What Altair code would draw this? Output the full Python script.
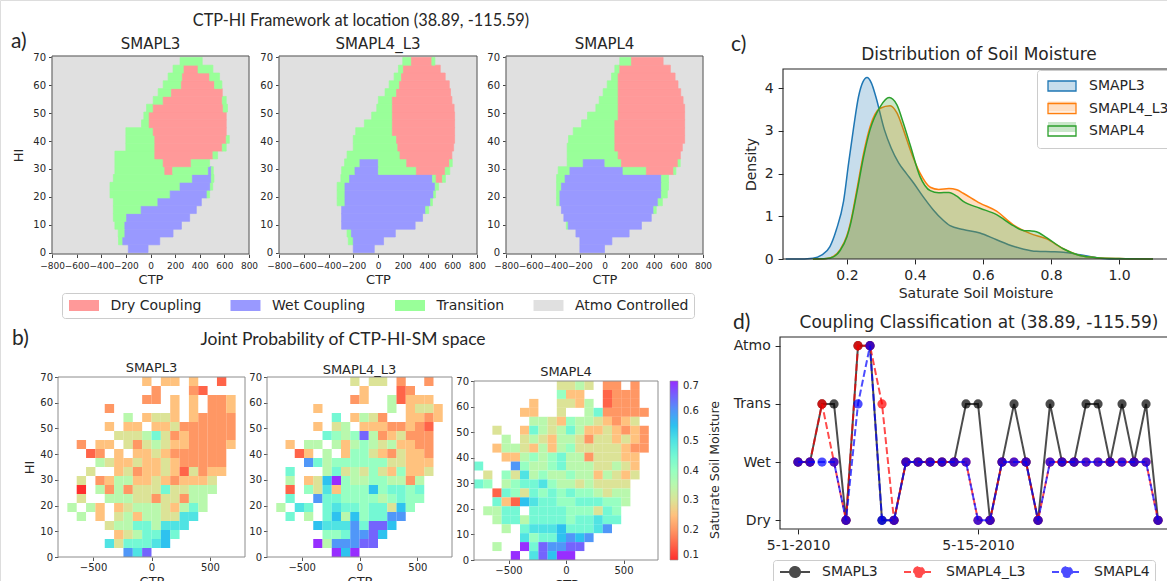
import altair as alt
import pandas as pd

W, H = 1167, 581
FONT = "DejaVu Sans"
HEAD = "Lato"
INK = "#262626"

# ---------------------------------------------------------------------------
# a) CTP-HI framework: coupling regime of each CTP/HI cell, per product
# ---------------------------------------------------------------------------
REGIME_NAMES = ["Dry Coupling", "Wet Coupling", "Transition", "Atmo Controlled"]
REGIME_COLORS = ["#ff9999", "#9999ff", "#99ff99", "#e0e0e0"]
REGIME_CODES = {"D": "Dry Coupling", "W": "Wet Coupling", "T": "Transition"}
CTP_LIMITS = [-800, 800]
HI_LIMITS = [-0.5, 70.5]
HI_BAND = 2.8  # height of one HI band of the regime maps

# one entry per HI band, bottom to top: runs of (regime, CTP from, CTP to);
# every cell outside the runs is atmosphere controlled
REGIME_SMAPL3 = [
    [("W", -180, -20)],
    [("T", -260, -225), ("W", -225, 75)],
    [("T", -262, -208), ("W", -208, 183)],
    [("T", -289, -208), ("W", -208, 251)],
    [("T", -302, -194), ("W", -194, 318)],
    [("T", -302, -76), ("W", -76, 372)],
    [("T", -302, 60), ("W", 60, 413)],
    [("T", -329, 160), ("W", 160, 459), ("T", 459, 480)],
    [("T", -329, 240), ("W", 240, 486), ("T", 486, 505)],
    [("T", -302, 340), ("W", 340, 494), ("T", 494, 515)],
    [("T", -289, 116), ("D", 116, 180), ("T", 180, 470), ("W", 470, 494), ("T", 494, 510)],
    [("T", -289, 103), ("D", 103, 330), ("T", 330, 480)],
    [("T", -289, 35), ("D", 35, 507), ("T", 507, 545)],
    [("T", -200, 35), ("D", 35, 583), ("T", 583, 615)],
    [("T", -200, 35), ("D", 35, 615), ("T", 615, 640)],
    [("T", -200, 22), ("D", 22, 615)],
    [("T", -73, -11), ("D", -11, 615)],
    [("T", -54, -11), ("D", -11, 615)],
    [("T", -32, 22), ("D", 22, 590), ("T", 590, 625)],
    [("T", 22, 103), ("D", 103, 583), ("T", 583, 615)],
    [("T", 62, 170), ("D", 170, 583)],
    [("T", 103, 251), ("D", 251, 520), ("T", 520, 580)],
    [("T", 143, 259), ("D", 259, 480), ("T", 480, 561)],
    [("T", 183, 272), ("D", 272, 386), ("T", 386, 507)],
    [("T", 240, 420)],
]
REGIME_SMAPL4_L3 = [
    [("W", -200, -30)],
    [("T", -240, -200), ("W", -200, 45)],
    [("T", -250, -215), ("W", -215, 140)],
    [("W", -294, 300)],
    [("W", -294, 360)],
    [("W", -294, 385), ("T", 385, 410)],
    [("T", -330, -267), ("W", -267, 425), ("T", 425, 440)],
    [("T", -330, -267), ("W", -267, 450), ("T", 450, 465)],
    [("T", -330, -267), ("W", -267, 462), ("T", 462, 490)],
    [("T", -300, -230), ("W", -230, 440), ("T", 440, 470), ("D", 470, 520), ("T", 520, 545)],
    [("T", -294, -186), ("W", -186, 3), ("T", 3, 310), ("D", 310, 543), ("T", 543, 580)],
    [("T", -270, -146), ("W", -146, 3), ("T", 3, 232), ("D", 232, 578), ("T", 578, 600)],
    [("T", -250, 178), ("D", 178, 597)],
    [("T", -200, 160), ("D", 160, 611)],
    [("T", -200, 150), ("D", 150, 619)],
    [("T", -180, 116), ("D", 116, 619)],
    [("T", -110, 116), ("D", 116, 619)],
    [("T", -51, 116), ("D", 116, 619)],
    [("T", -10, 116), ("D", 116, 615)],
    [("T", 3, 116), ("D", 116, 597)],
    [("T", 57, 150), ("D", 150, 586)],
    [("T", 90, 173), ("D", 173, 576)],
    [("T", 130, 190), ("D", 190, 543)],
    [("T", 165, 205), ("D", 205, 503)],
    [("T", 200, 270), ("D", 270, 435), ("T", 435, 460)],
]
REGIME_SMAPL4 = [
    [("W", -200, 0)],
    [("W", -200, 60)],
    [("W", -232, 200)],
    [("T", -310, -295), ("W", -295, 300)],
    [("W", -330, 380)],
    [("W", -350, 400), ("T", 400, 420)],
    [("T", -389, -362), ("W", -362, 435), ("T", 435, 470)],
    [("T", -389, -362), ("W", -362, 462), ("T", 462, 510)],
    [("T", -389, -350), ("W", -350, 462), ("T", 462, 520)],
    [("T", -389, -320), ("W", -320, 462), ("T", 462, 520)],
    [("T", -376, -281), ("W", -281, 150), ("T", 150, 340), ("D", 340, 562), ("T", 562, 580)],
    [("T", -303, -173), ("W", -173, 3), ("T", 3, 138), ("D", 138, 597), ("T", 597, 615)],
    [("T", -303, 111), ("D", 111, 616)],
    [("T", -303, 84), ("D", 84, 632)],
    [("T", -292, 84), ("D", 84, 651)],
    [("T", -254, 84), ("D", 84, 651)],
    [("T", -186, 84), ("D", 84, 651)],
    [("T", -138, 111), ("D", 111, 651)],
    [("T", -70, 111), ("D", 111, 651)],
    [("T", -43, 111), ("D", 111, 638)],
    [("T", -11, 111), ("D", 111, 619)],
    [("T", 22, 111), ("D", 111, 597)],
    [("T", 57, 111), ("D", 111, 573)],
    [("T", 84, 124), ("D", 124, 535)],
    [("T", 124, 219), ("D", 219, 476)],
]

# ---------------------------------------------------------------------------
# b) mean saturated soil moisture in each CTP/HI bin
#    one string per HI row (top row first), one letter per CTP bin, '.' = no data
# ---------------------------------------------------------------------------
SM_CODE = {"a": 0.10, "b": 0.15, "c": 0.20, "d": 0.25, "e": 0.30, "f": 0.35,
           "g": 0.40, "h": 0.45, "i": 0.50, "j": 0.55, "k": 0.60, "l": 0.65, "m": 0.70}
CTP_BIN = 80
HI_BIN = 3.5
GRID_SMAPL3 = [
    ".........d.dd.d..b..",
    "..........c...cb....",
    ".........cc.d.d.ccd.",
    ".....c......d.d.ccd.",
    ".......f.deed.dcccc.",
    ".....d.dd.ddecccccc.",
    "......eeefhecdccccc.",
    "..c.dd.ecefeddccccd.",
    "...bc.d.ddedcccccc..",
    "....feddeddedccccc..",
    "...e..decddedbecdd..",
    "..e.cdffddedcddde...",
    "..a.fcfceeeheefff...",
    "..e..fffeeceecff....",
    ".f.fd.defffedfhf....",
    "..f.d.efdffeeii.....",
    ".....effhhfiii......",
    "......defhhjh.......",
    ".....iehhhij........",
    ".......kil..........",
]
GRID_SMAPL4_L3 = [
    ".........e.ee.c..c..",
    "..........d...bc....",
    ".........cd..fbddd..",
    ".....d.......f.deed.",
    ".......h.dfec..ddcd.",
    ".....d.ef.dddccdcb..",
    "......hgfglfcdeccc..",
    "..d.ff.fdfgfefddcc..",
    "...bd.f.dggedceddc..",
    "....khfggggggeeddd..",
    "..h...fhefegedgdde..",
    "..f.dejmgffggffcf...",
    "..b.geidgggjghhgh...",
    "..h..khhggggfghgg...",
    ".f.ih.hihhghhejg....",
    "..h.f.hjfjghhkk.....",
    ".....jiiikhllj......",
    "......gghkklj.......",
    ".....mfkkkll........",
    ".......mjm..........",
]
GRID_SMAPL4 = [
    ".........eefe.cc.c..",
    ".........gdd..bccc..",
    "......d..eedf.bccc..",
    ".....dd..e..fhccccc.",
    "......ffedgffedcde..",
    "..e..dhfefhfddedcdc.",
    "...f.efedffeceededc.",
    "..dffedfdfgeeeeedcc.",
    "...ddfgfghffceeedd..",
    "h...kgffghfffeefed..",
    ".e.geifgffgffdfede..",
    "hg.fghhigffefeeee...",
    "..bhgehghghggfeff...",
    "..hdbjihhgghhhggf...",
    ".ffhh.hhhhgggehg....",
    "..fhhfhhhhghhihh....",
    "...f.hiiijhhhik.....",
    ".....ighhjkjk.......",
    "..f..mhlkkll........",
    "....m.iljmm.........",
]
# reversed rainbow colour map, one colour per soil-moisture stop
SM_STOPS = [0.10, 0.15, 0.20, 0.25, 0.30, 0.35, 0.40, 0.45, 0.50, 0.55, 0.60, 0.65, 0.70]
SM_PALETTE = ["#ff0000", "#ff4221", "#ff8042", "#ffb462", "#d4dd80", "#aaf69b", "#80ffb4",
              "#55f6ca", "#2adddd", "#00b4ec", "#2a80f6", "#5542fd", "#8000ff"]
SM_TICKS = [0.1, 0.2, 0.3, 0.4, 0.5, 0.6, 0.7]

# ---------------------------------------------------------------------------
# c) density of saturated soil moisture
# ---------------------------------------------------------------------------
SERIES = ["SMAPL3", "SMAPL4_L3", "SMAPL4"]
KDE_COLORS = ["#1f77b4", "#ff7f0e", "#2ca02c"]
SM_X_L3 = [0.02, 0.05, 0.10, 0.125, 0.15, 0.169, 0.19, 0.205, 0.22, 0.234, 0.247, 0.259,
           0.272, 0.285, 0.31, 0.33, 0.352, 0.375, 0.396, 0.425, 0.454, 0.48, 0.503, 0.542,
           0.591, 0.64, 0.689, 0.72, 0.757, 0.8, 0.836, 0.885, 0.943, 1.0, 1.1]
DENS_L3 = [0.0, 0.0, 0.02, 0.09, 0.29, 0.69, 1.35, 2.25, 3.1, 3.8, 4.15, 4.25,
           4.12, 3.8, 3.03, 2.6, 2.25, 2.0, 1.78, 1.45, 1.15, 0.93, 0.78, 0.69,
           0.61, 0.45, 0.3, 0.23, 0.18, 0.17, 0.16, 0.1, 0.02, 0.0, 0.0]
SM_X_L4L3 = [0.10, 0.14, 0.16, 0.18, 0.20, 0.21, 0.229, 0.249, 0.268, 0.298, 0.327, 0.347,
             0.366, 0.386, 0.415, 0.445, 0.47, 0.50, 0.523, 0.542, 0.591, 0.64, 0.689,
             0.738, 0.787, 0.836, 0.885, 0.934, 1.0, 1.1]
DENS_L4L3 = [0.0, 0.01, 0.06, 0.22, 0.55, 0.84, 1.62, 2.48, 3.1, 3.53, 3.59, 3.42,
             3.03, 2.56, 2.01, 1.68, 1.63, 1.65, 1.62, 1.54, 1.31, 1.12, 0.8,
             0.6, 0.47, 0.24, 0.08, 0.03, 0.01, 0.0]
SM_X_L4 = [0.10, 0.14, 0.16, 0.18, 0.20, 0.21, 0.229, 0.249, 0.268, 0.298, 0.324, 0.347,
           0.366, 0.386, 0.415, 0.445, 0.47, 0.50, 0.523, 0.542, 0.591, 0.64, 0.689,
           0.718, 0.738, 0.757, 0.787, 0.836, 0.885, 0.934, 1.0, 1.1]
DENS_L4 = [0.0, 0.01, 0.05, 0.2, 0.52, 0.8, 1.55, 2.4, 3.03, 3.57, 3.78, 3.61,
           3.18, 2.67, 1.93, 1.6, 1.55, 1.56, 1.47, 1.35, 1.19, 1.04, 0.78,
           0.67, 0.66, 0.64, 0.5, 0.24, 0.08, 0.03, 0.01, 0.0]

# ---------------------------------------------------------------------------
# d) daily coupling class, May 2010
# ---------------------------------------------------------------------------
LEVELS = ["Dry", "Wet", "Trans", "Atmo"]
DAY_TICKS = [0, 15]
DAY_LABELS = ["5-1-2010", "5-15-2010"]
DAY_COLORS = ["#000000", "#ff0000", "#0000ff"]
DAY_DASHES = [[1, 0], [7, 3], [7, 3]]
CLASS_SMAPL3 = ["Wet", "Wet", "Trans", "Trans", "Dry", "Atmo", "Atmo", "Dry", "Dry", "Wet",
                "Wet", "Wet", "Wet", "Wet", "Trans", "Trans", "Dry", "Wet", "Trans", "Wet",
                "Dry", "Trans", "Wet", "Wet", "Trans", "Trans", "Wet", "Trans", "Wet", "Trans",
                "Dry"]
CLASS_SMAPL4_L3 = ["Wet", "Wet", "Trans", "Wet", "Dry", "Atmo", "Atmo", "Trans", "Dry", "Wet",
                   "Wet", "Wet", "Wet", "Wet", "Wet", "Dry", "Dry", "Wet", "Wet", "Wet",
                   "Dry", "Wet", "Wet", "Wet", "Wet", "Wet", "Wet", "Wet", "Wet", "Wet",
                   "Dry"]
CLASS_SMAPL4 = ["Wet", "Wet", "Wet", "Wet", "Dry", "Trans", "Atmo", "Dry", "Dry", "Wet",
                "Wet", "Wet", "Wet", "Wet", "Wet", "Dry", "Dry", "Wet", "Wet", "Wet",
                "Dry", "Wet", "Wet", "Wet", "Wet", "Wet", "Wet", "Wet", "Wet", "Wet",
                "Dry"]

# ---------------------------------------------------------------------------
# page layout (pixels) of every plotting area
# ---------------------------------------------------------------------------
MAP_X = [(52, 249), (279, 477), (506, 703)]
MAP_Y = (254, 56)
HEAT_X = [(58, 245), (267, 452), (474, 658)]
HEAT_Y = [(557, 377), (557, 377), (560, 381)]
KDE_PX = ((783, 1168), (259, 69))
KDE_DOMAIN = ([0.012, 1.144], [0, 4.45])
DAY_PX = ((780, 1168), (529, 337))
DAY_DOMAIN = ([-1.5, 30.83], [-0.15, 3.15])


def axis(orient, pos, values, size, title=None, title_size=13, tick=3.5, pad=2,
         title_pad=4, fmt=None, label_expr=None, tick_color=INK):
    offset = pos - H if orient == "bottom" else -pos
    kw = dict(orient=orient, offset=offset, values=values, grid=False, domain=False,
              tickSize=tick, tickColor=tick_color, tickWidth=1, labelFont=FONT,
              labelFontSize=size, labelColor=INK, labelPadding=pad, labelOverlap=False,
              labelFlush=False, title=title)
    if title:
        kw.update(titleFont=FONT, titleFontSize=title_size, titleColor=INK,
                  titlePadding=title_pad, titleFontWeight="normal")
    if fmt:
        kw["format"] = fmt
    if label_expr:
        kw["labelExpr"] = label_expr
    return alt.Axis(**kw)


def frame(xs, ys, xax, yax, xdom, ydom, color, width=1.0):
    box = pd.DataFrame({"x0": [xdom[0]], "x1": [xdom[1]], "y0": [ydom[0]], "y1": [ydom[1]]})
    return alt.Chart(box).mark_rect(fillOpacity=0, stroke=color, strokeWidth=width).encode(
        x=alt.X("x0:Q", scale=xs, axis=xax), x2="x1:Q",
        y=alt.Y("y0:Q", scale=ys, axis=yax), y2="y1:Q")


def regime_panel(rows, xr, show_hi, show_legend):
    recs = [dict(regime="Atmo Controlled", x0=CTP_LIMITS[0], x1=CTP_LIMITS[1],
                 y0=HI_LIMITS[0], y1=HI_LIMITS[1])]
    for k, runs in enumerate(rows):
        for code, a, b in runs:
            recs.append(dict(regime=REGIME_CODES[code], x0=a, x1=b,
                             y0=k * HI_BAND, y1=(k + 1) * HI_BAND))
    df = pd.DataFrame(recs)
    xs = alt.Scale(domain=CTP_LIMITS, range=list(xr), nice=False, zero=False)
    ys = alt.Scale(domain=HI_LIMITS, range=list(MAP_Y), nice=False, zero=False)
    xax = axis("bottom", MAP_Y[0], list(range(-800, 801, 200)), 9, title="CTP",
               title_size=13, pad=3.5, title_pad=3, fmt="d", tick_color="#444")
    yax = axis("left", xr[0], list(range(0, 71, 10)), 10, title="HI" if show_hi else None,
               title_size=13, pad=3, title_pad=7, fmt="d", tick_color="#444")
    if show_legend:
        legend = alt.Legend(orient="none", legendX=62, legendY=293, direction="horizontal",
                            title=None, symbolType="M-1,-1H4.45V1H-1Z", symbolSize=121,
                            symbolStrokeWidth=0, symbolOpacity=1, labelFont=FONT,
                            labelFontSize=14, labelColor=INK, labelOffset=29,
                            columnPadding=27.5, padding=5.5, strokeColor="#cccccc",
                            cornerRadius=3)
    else:
        legend = None
    regime_scale = alt.Scale(domain=REGIME_NAMES, range=REGIME_COLORS)
    cells = alt.Chart(df).mark_rect(strokeWidth=0.7).encode(
        x=alt.X("x0:Q", scale=xs, axis=xax), x2="x1:Q",
        y=alt.Y("y0:Q", scale=ys, axis=yax), y2="y1:Q",
        color=alt.Color("regime:N", scale=regime_scale, legend=legend),
        stroke=alt.Stroke("regime:N", scale=regime_scale, legend=None))
    return alt.layer(cells, frame(xs, ys, xax, yax, CTP_LIMITS, HI_LIMITS, "#555555"))


def heat_panel(rows, xr, yr, show_hi, show_legend):
    recs = []
    for r, line in enumerate(rows):
        y0 = 70 - (r + 1) * HI_BIN
        for c, ch in enumerate(line):
            if ch in SM_CODE:
                x0 = CTP_LIMITS[0] + c * CTP_BIN
                recs.append(dict(x0=x0, x1=x0 + CTP_BIN, y0=y0, y1=y0 + HI_BIN, sm=SM_CODE[ch]))
    df = pd.DataFrame(recs)
    xs = alt.Scale(domain=CTP_LIMITS, range=list(xr), nice=False, zero=False)
    ys = alt.Scale(domain=[0, 70], range=list(yr), nice=False, zero=False)
    xax = axis("bottom", yr[0], [-500, 0, 500], 10, title="CTP", title_size=13, pad=2,
               title_pad=3, fmt="d", tick_color="#555")
    yax = axis("left", xr[0], list(range(0, 71, 10)), 10, title="HI" if show_hi else None,
               title_size=13, pad=2, title_pad=3, fmt="d", tick_color="#555")
    if show_legend:
        legend = alt.Legend(orient="none", legendX=670, legendY=381, direction="vertical",
                            title=None, gradientLength=179, gradientThickness=8,
                            values=SM_TICKS, format=".1f", labelFont=FONT, labelFontSize=10,
                            labelColor=INK, labelOffset=5, labelBaseline="middle",
                            gradientStrokeColor="#777777", gradientStrokeWidth=0.6)
    else:
        legend = None
    cells = alt.Chart(df).mark_rect(opacity=0.82).encode(
        x=alt.X("x0:Q", scale=xs, axis=xax), x2="x1:Q",
        y=alt.Y("y0:Q", scale=ys, axis=yax), y2="y1:Q",
        color=alt.Color("sm:Q", scale=alt.Scale(domain=SM_STOPS, range=SM_PALETTE,
                                                interpolate="rgb"), legend=legend))
    return alt.layer(cells, frame(xs, ys, xax, yax, CTP_LIMITS, [0, 70], "#8c8c8c"))


def kde_panel():
    rows = []
    for name, xs_, ds_ in zip(SERIES, [SM_X_L3, SM_X_L4L3, SM_X_L4],
                              [DENS_L3, DENS_L4L3, DENS_L4]):
        for a, b in zip(xs_, ds_):
            rows.append(dict(sm=a, density=b, series=name, curve=name))
    df = pd.DataFrame(rows)
    xs = alt.Scale(domain=KDE_DOMAIN[0], range=list(KDE_PX[0]), nice=False, zero=False)
    ys = alt.Scale(domain=KDE_DOMAIN[1], range=list(KDE_PX[1]), nice=False, zero=False)
    xax = axis("bottom", KDE_PX[1][0], [0.2, 0.4, 0.6, 0.8, 1.0], 14,
               title="Saturate Soil Moisture", title_size=14, tick=4.9, pad=4.9,
               title_pad=4, fmt=".1f")
    yax = axis("left", KDE_PX[0][0], [0, 1, 2, 3, 4], 14, title="Density", title_size=14,
               tick=4.9, pad=4.9, title_pad=6, fmt="d")
    patch = "M-1,-1H4.6V1H-1Z"
    common = dict(orient="none", legendX=1037, legendY=70, direction="vertical", title=None,
                  symbolType=patch, symbolSize=100, labelFont=FONT, labelFontSize=14,
                  labelColor=INK, labelOffset=29, rowPadding=6.5, padding=9)
    # translucent patches (no text) under the outlined, labelled entries
    fill_legend = alt.Legend(symbolOpacity=0.25, symbolStrokeWidth=0, labelExpr="''",
                             **common)
    edge_legend = alt.Legend(symbolStrokeWidth=1.3, symbolFillColor="transparent",
                             strokeColor="#cccccc", cornerRadius=3, **common)
    layers = []
    for name in SERIES:
        base = alt.Chart(df).transform_filter(alt.datum.series == name)
        layers.append(base.mark_area(interpolate="monotone", fillOpacity=0.25).encode(
            x=alt.X("sm:Q", scale=xs, axis=xax),
            y=alt.Y("density:Q", scale=ys, axis=yax),
            fill=alt.Fill("series:N", scale=alt.Scale(domain=SERIES, range=KDE_COLORS),
                          legend=fill_legend)))
        layers.append(base.mark_line(interpolate="monotone", strokeWidth=1.5).encode(
            x=alt.X("sm:Q", scale=xs, axis=xax),
            y=alt.Y("density:Q", scale=ys, axis=yax),
            stroke=alt.Stroke("curve:N", sort=SERIES, scale=alt.Scale(range=KDE_COLORS),
                              legend=edge_legend)))
    layers.append(frame(xs, ys, xax, yax, KDE_DOMAIN[0], KDE_DOMAIN[1], INK, 1.1))
    return alt.layer(*layers)


def day_panel():
    rows = []
    for name, classes in zip(SERIES, [CLASS_SMAPL3, CLASS_SMAPL4_L3, CLASS_SMAPL4]):
        for day, cls in enumerate(classes):
            rows.append(dict(day=day, level=LEVELS.index(cls), series=name))
    df = pd.DataFrame(rows)
    xs = alt.Scale(domain=DAY_DOMAIN[0], range=list(DAY_PX[0]), nice=False, zero=False)
    ys = alt.Scale(domain=DAY_DOMAIN[1], range=list(DAY_PX[1]), nice=False, zero=False)
    day_expr = " : ".join(f"datum.value == {v} ? '{t}'" for v, t in zip(DAY_TICKS, DAY_LABELS)) + " : ''"
    lvl_expr = "[" + ", ".join(f"'{t}'" for t in LEVELS) + "][datum.value]"
    xax = axis("bottom", DAY_PX[1][0], DAY_TICKS, 14, tick=4.9, pad=4.9, label_expr=day_expr)
    yax = axis("left", DAY_PX[0][0], list(range(len(LEVELS))), 14, tick=4.9, pad=4.9,
               label_expr=lvl_expr)
    legend = alt.Legend(orient="none", legendX=773, legendY=560, direction="horizontal",
                        title=None, symbolType="M-1,0H5M1,0A1,1,0,1,1,3,0A1,1,0,1,1,1,0Z",
                        symbolSize=100, symbolStrokeWidth=2, symbolOpacity=0.7,
                        labelFont=FONT, labelFontSize=14, labelColor=INK, labelOffset=30,
                        columnPadding=22, padding=5, strokeColor="#cccccc", cornerRadius=3)
    color_scale = alt.Scale(domain=SERIES, range=DAY_COLORS)
    dash_scale = alt.Scale(domain=SERIES, range=DAY_DASHES)
    layers = []
    for name in SERIES:
        base = alt.Chart(df).transform_filter(alt.datum.series == name)
        layers.append(base.mark_line(strokeWidth=2, opacity=0.7).encode(
            x=alt.X("day:Q", scale=xs, axis=xax),
            y=alt.Y("level:Q", scale=ys, axis=yax),
            stroke=alt.Stroke("series:N", scale=color_scale, legend=legend),
            strokeDash=alt.StrokeDash("series:N", scale=dash_scale, legend=legend)))
        layers.append(base.mark_circle(size=85, opacity=0.7).encode(
            x=alt.X("day:Q", scale=xs, axis=xax),
            y=alt.Y("level:Q", scale=ys, axis=yax),
            fill=alt.Fill("series:N", scale=color_scale, legend=legend)))
    layers.append(frame(xs, ys, xax, yax, DAY_DOMAIN[0], DAY_DOMAIN[1], INK, 1.1))
    return alt.layer(*layers)


def note(text, x, y, size, font=FONT, align="center", angle=0):
    mark_kw = dict(font=font, fontSize=size, align=align, baseline="middle", color=INK)
    if angle:
        mark_kw["angle"] = angle
    return alt.Chart(pd.DataFrame({"label": [text]})).mark_text(**mark_kw).encode(
        x=alt.value(x), y=alt.value(y), text="label:N")


panels = [
    regime_panel(REGIME_SMAPL3, MAP_X[0], True, True),
    regime_panel(REGIME_SMAPL4_L3, MAP_X[1], False, False),
    regime_panel(REGIME_SMAPL4, MAP_X[2], False, False),
    heat_panel(GRID_SMAPL3, HEAT_X[0], HEAT_Y[0], True, True),
    heat_panel(GRID_SMAPL4_L3, HEAT_X[1], HEAT_Y[1], False, False),
    heat_panel(GRID_SMAPL4, HEAT_X[2], HEAT_Y[2], False, False),
    kde_panel(),
    day_panel(),
]

notes = [
    note("CTP-HI Framework at location (38.89, -115.59)", 361, 21, 16.3, HEAD),
    note("a)", 11, 42, 21, HEAD, align="left"),
    note("Joint Probability of CTP-HI-SM space", 343, 340, 17.5, HEAD),
    note("b)", 12, 339, 21, HEAD, align="left"),
    note("c)", 731, 45, 21, HEAD, align="left"),
    note("d)", 733, 323, 21, HEAD, align="left"),
    note(SERIES[0], sum(MAP_X[0]) / 2, 44, 15),
    note(SERIES[1], sum(MAP_X[1]) / 2, 44, 15),
    note(SERIES[2], sum(MAP_X[2]) / 2, 44, 15),
    note(SERIES[0], sum(HEAT_X[0]) / 2, 368, 13),
    note(SERIES[1], sum(HEAT_X[1]) / 2, 370, 13),
    note(SERIES[2], sum(HEAT_X[2]) / 2, 372, 13),
    note("Saturate Soil Moisture", 715, 470, 12.5, angle=270),
    note("Distribution of Soil Moisture", 979, 55, 17),
    note("Coupling Classification at (38.89, -115.59)", 979, 323, 17),
]

chart = alt.layer(*panels, *notes).resolve_scale(
    x="independent", y="independent", color="independent", fill="independent",
    stroke="independent", strokeDash="independent",
).properties(
    width=W, height=H, autosize=alt.AutoSizeParams(type="none"), padding=0,
).configure_view(stroke=None).configure(background="white")

chart.save("out.html", embed_options={"renderer": "svg", "actions": False})
